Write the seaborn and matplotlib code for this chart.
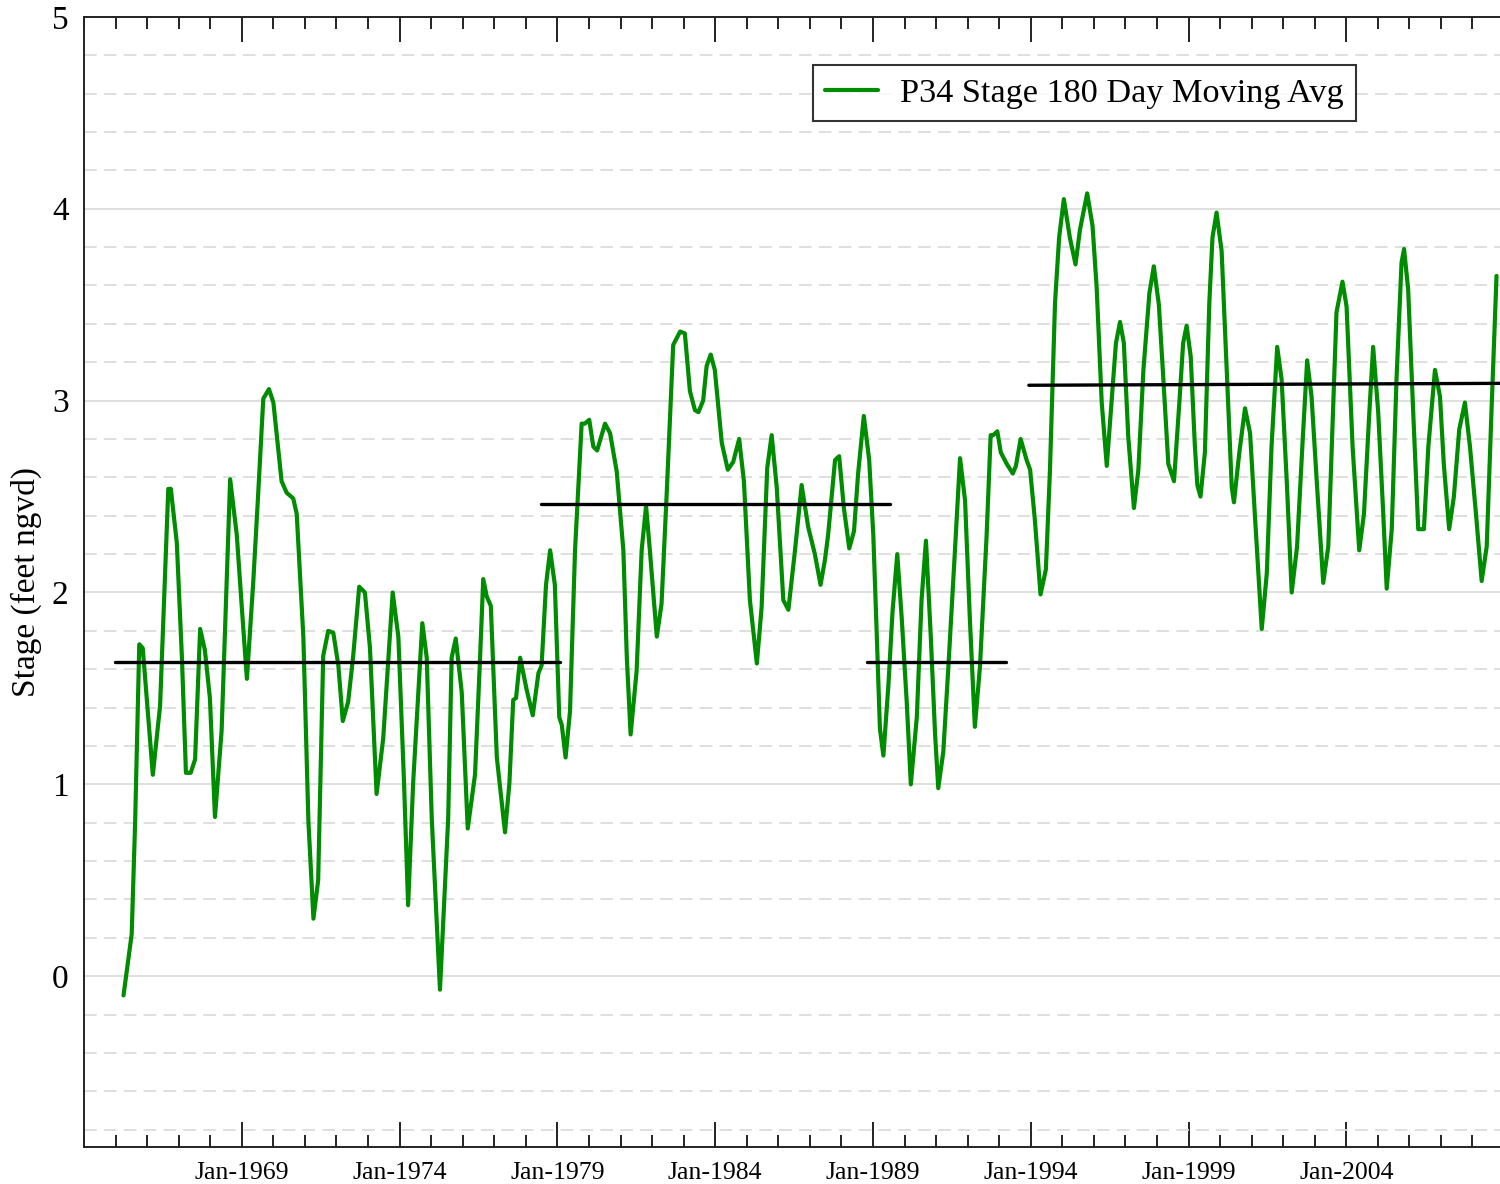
import pandas as pd
import matplotlib.pyplot as plt
import matplotlib.dates as mdates
from matplotlib.ticker import MultipleLocator, FixedLocator
import seaborn as sns

# P34 stage, 180 day moving average (decimal year, feet ngvd)
years = [
    1965.25, 1965.51, 1965.62, 1965.75, 1965.86, 1966.18, 1966.41, 1966.67, 1966.75, 1966.94,
    1967.10, 1967.23, 1967.38, 1967.52, 1967.68, 1967.83, 1967.99, 1968.15, 1968.36, 1968.63,
    1968.84, 1969.00, 1969.16, 1969.36, 1969.52, 1969.68, 1969.86, 1970.00, 1970.26, 1970.42,
    1970.63, 1970.74, 1970.95, 1971.11, 1971.27, 1971.42, 1971.58, 1971.74, 1971.90, 1972.06,
    1972.20, 1972.37, 1972.53, 1972.72, 1972.90, 1973.06, 1973.27, 1973.48, 1973.78, 1973.96,
    1974.14, 1974.27, 1974.43, 1974.72, 1974.86, 1975.02, 1975.28, 1975.54, 1975.65, 1975.78,
    1975.97, 1976.16, 1976.39, 1976.55, 1976.65, 1976.76, 1976.89, 1977.08, 1977.34, 1977.48,
    1977.60, 1977.69, 1977.82, 1978.03, 1978.22, 1978.40, 1978.50, 1978.64, 1978.77, 1978.92,
    1979.06, 1979.14, 1979.26, 1979.40, 1979.56, 1979.77, 1979.87, 1980.01, 1980.14, 1980.26,
    1980.51, 1980.67, 1980.88, 1981.09, 1981.20, 1981.32, 1981.51, 1981.67, 1981.81, 1981.93,
    1982.15, 1982.30, 1982.46, 1982.67, 1982.89, 1983.04, 1983.20, 1983.36, 1983.47, 1983.62,
    1983.73, 1983.86, 1983.99, 1984.21, 1984.40, 1984.57, 1984.76, 1984.91, 1985.10, 1985.32,
    1985.47, 1985.65, 1985.79, 1985.95, 1986.16, 1986.32, 1986.53, 1986.74, 1986.95, 1987.16,
    1987.34, 1987.48, 1987.58, 1987.80, 1987.93, 1988.08, 1988.25, 1988.40, 1988.53, 1988.71,
    1988.88, 1989.01, 1989.12, 1989.22, 1989.33, 1989.49, 1989.62, 1989.77, 1989.91, 1990.07,
    1990.20, 1990.39, 1990.54, 1990.68, 1990.83, 1990.97, 1991.07, 1991.23, 1991.39, 1991.60,
    1991.76, 1991.92, 1992.07, 1992.23, 1992.39, 1992.60, 1992.73, 1992.81, 1992.94, 1993.05,
    1993.24, 1993.43, 1993.53, 1993.68, 1993.87, 1993.98, 1994.13, 1994.31, 1994.48, 1994.61,
    1994.77, 1994.90, 1995.05, 1995.24, 1995.42, 1995.56, 1995.79, 1995.96, 1996.09, 1996.25,
    1996.41, 1996.56, 1996.70, 1996.83, 1996.95, 1997.09, 1997.27, 1997.41, 1997.57, 1997.76,
    1997.90, 1998.06, 1998.20, 1998.36, 1998.54, 1998.71, 1998.83, 1998.94, 1999.07, 1999.20,
    1999.28, 1999.38, 1999.52, 1999.66, 1999.76, 1999.89, 2000.05, 2000.21, 2000.37, 2000.44,
    2000.61, 2000.79, 2000.95, 2001.10, 2001.32, 2001.48, 2001.63, 2001.81, 2001.95, 2002.11,
    2002.27, 2002.44, 2002.62, 2002.76, 2002.90, 2003.06, 2003.27, 2003.43, 2003.58, 2003.69,
    2003.88, 2004.01, 2004.20, 2004.41, 2004.56, 2004.73, 2004.85, 2005.01, 2005.17, 2005.28,
    2005.44, 2005.59, 2005.75, 2005.83, 2005.96, 2006.12, 2006.28, 2006.46, 2006.60, 2006.81,
    2006.97, 2007.09, 2007.26, 2007.41, 2007.58, 2007.76, 2007.92, 2008.11, 2008.29, 2008.45,
    2008.60, 2008.76,
]
stage = [
    -0.10, 0.22, 0.81, 1.73, 1.71, 1.05, 1.41, 2.54, 2.54, 2.26,
    1.67, 1.06, 1.06, 1.13, 1.81, 1.70, 1.45, 0.83, 1.28, 2.59,
    2.30, 1.92, 1.55, 2.05, 2.52, 3.01, 3.06, 2.99, 2.58, 2.52,
    2.49, 2.41, 1.77, 0.81, 0.30, 0.50, 1.67, 1.80, 1.79, 1.62,
    1.33, 1.43, 1.67, 2.03, 2.00, 1.71, 0.95, 1.24, 2.00, 1.77,
    1.01, 0.37, 1.01, 1.84, 1.66, 0.82, -0.07, 0.82, 1.66, 1.76,
    1.48, 0.77, 1.05, 1.66, 2.07, 1.98, 1.93, 1.14, 0.75, 1.01,
    1.44, 1.45, 1.66, 1.49, 1.36, 1.58, 1.62, 2.04, 2.22, 2.04,
    1.35, 1.31, 1.14, 1.38, 2.22, 2.88, 2.88, 2.90, 2.76, 2.74,
    2.88, 2.83, 2.63, 2.22, 1.66, 1.26, 1.59, 2.22, 2.45, 2.22,
    1.77, 1.94, 2.50, 3.29, 3.36, 3.35, 3.05, 2.95, 2.94, 3.00,
    3.18, 3.24, 3.16, 2.78, 2.64, 2.68, 2.80, 2.58, 1.96, 1.63,
    1.92, 2.65, 2.82, 2.55, 1.96, 1.91, 2.22, 2.56, 2.34, 2.20,
    2.04, 2.17, 2.30, 2.69, 2.71, 2.44, 2.23, 2.32, 2.62, 2.92,
    2.69, 2.30, 1.78, 1.29, 1.15, 1.52, 1.90, 2.20, 1.87, 1.43,
    1.00, 1.35, 1.96, 2.27, 1.78, 1.26, 0.98, 1.17, 1.61, 2.22,
    2.70, 2.48, 1.87, 1.30, 1.61, 2.29, 2.82, 2.82, 2.84, 2.73,
    2.67, 2.62, 2.66, 2.80, 2.69, 2.64, 2.38, 1.99, 2.12, 2.64,
    3.51, 3.85, 4.05, 3.85, 3.71, 3.89, 4.08, 3.91, 3.59, 2.99,
    2.66, 2.99, 3.30, 3.41, 3.30, 2.81, 2.44, 2.64, 3.16, 3.56,
    3.70, 3.50, 3.12, 2.67, 2.58, 2.99, 3.30, 3.39, 3.23, 2.77,
    2.56, 2.50, 2.73, 3.51, 3.85, 3.98, 3.78, 3.16, 2.55, 2.47,
    2.73, 2.96, 2.83, 2.41, 1.81, 2.10, 2.76, 3.28, 3.11, 2.59,
    2.00, 2.24, 2.80, 3.21, 3.02, 2.59, 2.05, 2.24, 2.94, 3.46,
    3.62, 3.49, 2.76, 2.22, 2.41, 2.94, 3.28, 2.94, 2.41, 2.02,
    2.33, 3.11, 3.72, 3.79, 3.58, 2.94, 2.33, 2.33, 2.76, 3.16,
    3.02, 2.67, 2.33, 2.50, 2.85, 2.99, 2.76, 2.41, 2.06, 2.24,
    2.94, 3.65,
]

# period averages (start, end, value at start, value at end)
mean_starts = [1964.98, 1978.48, 1988.81, 1993.94]
mean_ends = [1979.08, 1989.54, 1993.21, 2008.87]
mean_first = [1.64, 2.46, 1.64, 3.08]
mean_last = [1.64, 2.46, 1.64, 3.09]

major_years = [1969, 1974, 1979, 1984, 1989, 1994, 1999, 2004]
x_range = [1964.0, 2008.87]
y_range = [-0.89, 5.0]


def to_date(y):
    year = int(y)
    start = pd.Timestamp(year=year, month=1, day=1)
    length = (pd.Timestamp(year=year + 1, month=1, day=1) - start).days
    return start + pd.Timedelta(days=(y - year) * length)


df = pd.DataFrame({'date': [to_date(y) for y in years], 'stage': stage})

sns.set_style('white')
plt.rcParams['font.family'] = ['Liberation Serif', 'DejaVu Serif']
plt.rcParams['text.color'] = 'black'
plt.rcParams['axes.labelcolor'] = 'black'
plt.rcParams['xtick.color'] = 'black'
plt.rcParams['ytick.color'] = 'black'

fig = plt.figure(figsize=(15, 11.84), dpi=100)
ax = fig.add_axes([0.056, 0.03125, 0.944, 0.9545])

sns.lineplot(data=df, x='date', y='stage', color='#008c00', linewidth=3.0,
             label='P34 Stage 180 Day Moving Avg', ax=ax,
             solid_joinstyle='round', solid_capstyle='round')

for s, e, v0, v1 in zip(mean_starts, mean_ends, mean_first, mean_last):
    ax.plot([to_date(s), to_date(e)], [v0, v1], color='black', linewidth=2.4)

ax.set_xlim(to_date(x_range[0]), to_date(x_range[1]))
ax.set_ylim(*y_range)

# x ticks: major every 5 years, minor yearly, both inward on top and bottom
ax.xaxis.set_major_locator(FixedLocator([mdates.date2num(pd.Timestamp(year=y, month=1, day=1)) for y in major_years]))
ax.xaxis.set_major_formatter(mdates.DateFormatter('%b-%Y'))
ax.xaxis.set_minor_locator(mdates.YearLocator(1))
ax.tick_params(axis='x', which='major', direction='in', length=18, width=1.4,
               top=True, bottom=True, labelsize=18.5, pad=11, color='#222222')
ax.tick_params(axis='x', which='minor', direction='in', length=8.6, width=1.4,
               top=True, bottom=True, color='#222222')

# y: labels only, solid grid on integers, dashed on 0.2 steps
ax.yaxis.set_major_locator(MultipleLocator(1))
ax.yaxis.set_minor_locator(MultipleLocator(0.2))
ax.tick_params(axis='y', which='both', length=0, labelsize=24, pad=11)
ax.grid(True, axis='y', which='major', color='#dcdcdc', linewidth=1.3, linestyle='-')
ax.grid(True, axis='y', which='minor', color='#dcdcdc', linewidth=1.3, linestyle=(0, (7, 4)))
ax.grid(False, axis='x', which='both')
ax.set_axisbelow(True)

ax.set_xlabel('')
ax.set_ylabel('Stage (feet ngvd)', fontsize=24, labelpad=7)

for side in ['left', 'bottom', 'top']:
    ax.spines[side].set_color('#222222')
    ax.spines[side].set_linewidth(1.4)
ax.spines['right'].set_visible(False)

leg = ax.legend(loc='upper right', bbox_to_anchor=(0.898, 0.957), borderaxespad=0,
                fontsize=24.7, frameon=True, fancybox=False, handlelength=1.52,
                handletextpad=0.64, borderpad=0.36)
leg.get_frame().set_edgecolor('black')
leg.get_frame().set_linewidth(1.5)

fig.savefig('out.png', dpi=100)
